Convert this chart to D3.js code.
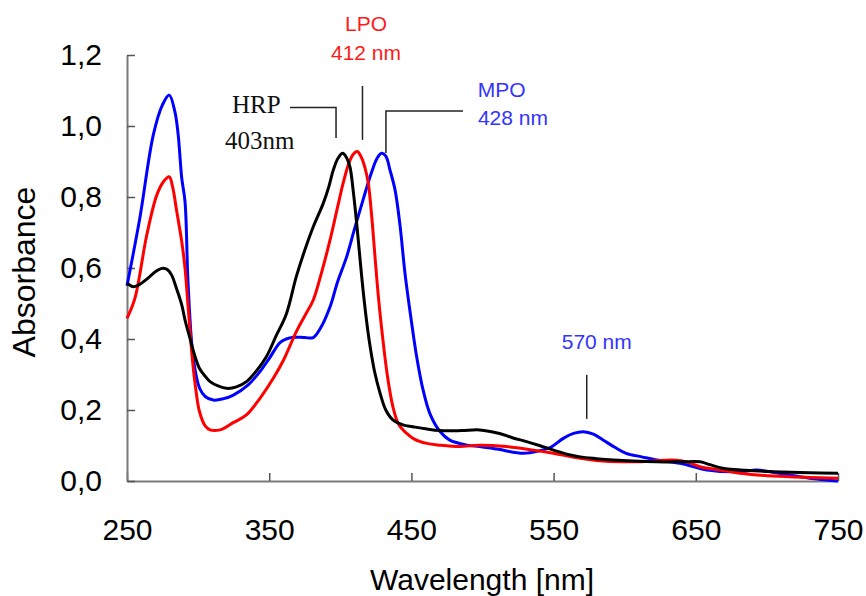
<!DOCTYPE html>
<html>
<head>
<meta charset="utf-8">
<script src="https://cdn.jsdelivr.net/npm/d3@7"></script>
<style>
  body { margin: 0; background: #fff; }
  svg { display: block; }
</style>
</head>
<body>
<svg id="chart" width="866" height="596"></svg>
<script>
// spectra: wavelength [nm] / absorbance
var mpoNm = [250, 259, 268.5, 275, 279.7, 283.7, 286, 288.5, 290.8, 293, 296.6, 301, 305, 310.7, 318, 324.8, 335, 343.5, 350, 357.6, 362, 367, 375, 381, 386, 392.8, 398, 404.5, 410, 416, 422, 426, 429, 432, 435, 438.5, 442, 445.5, 450, 453.7, 458, 463, 470, 477, 489, 498, 510, 528.7, 540, 548, 556.8, 564, 571, 578, 585, 593, 601, 612, 622.5, 639, 658, 681, 693, 705, 716, 730, 750];
var mpoAbs = [0.55, 0.74, 0.975, 1.06, 1.087, 1.04, 0.975, 0.853, 0.787, 0.552, 0.346, 0.262, 0.238, 0.228, 0.232, 0.242, 0.27, 0.308, 0.345, 0.39, 0.40, 0.405, 0.404, 0.404, 0.43, 0.491, 0.56, 0.632, 0.71, 0.792, 0.87, 0.91, 0.923, 0.915, 0.875, 0.82, 0.72, 0.585, 0.45, 0.35, 0.26, 0.19, 0.14, 0.115, 0.101, 0.097, 0.09, 0.078, 0.085, 0.095, 0.12, 0.134, 0.139, 0.132, 0.115, 0.095, 0.078, 0.068, 0.059, 0.05, 0.031, 0.026, 0.031, 0.024, 0.017, 0.008, 0.0];

var lpoNm = [250, 255.6, 263.9, 271, 276, 279.7, 282, 285, 288.5, 290.8, 293, 295.5, 298, 301, 305, 308.4, 315.4, 325, 334, 343, 353, 360, 369, 375, 381, 387, 392.8, 398, 402, 406, 409, 412, 415, 417.5, 419.7, 422, 424.4, 427, 430, 433, 437, 441, 446.7, 452, 460.8, 470, 484, 498, 517, 535.7, 549.8, 568.6, 580, 599, 615, 634, 645, 653, 665, 681, 704.5, 730, 750];
var lpoAbs = [0.458, 0.515, 0.693, 0.806, 0.845, 0.857, 0.83, 0.759, 0.674, 0.599, 0.49, 0.364, 0.27, 0.195, 0.155, 0.144, 0.144, 0.165, 0.186, 0.23, 0.29, 0.34, 0.42, 0.465, 0.51, 0.59, 0.679, 0.77, 0.839, 0.895, 0.92, 0.928, 0.91, 0.88, 0.839, 0.75, 0.632, 0.51, 0.397, 0.3, 0.209, 0.16, 0.134, 0.118, 0.106, 0.101, 0.097, 0.101, 0.097, 0.087, 0.078, 0.064, 0.058, 0.054, 0.055, 0.059, 0.052, 0.04, 0.032, 0.022, 0.014, 0.01, 0.008];

var hrpNm = [250, 254.5, 258, 261.5, 265, 268.5, 272, 275.5, 278.5, 281.4, 285, 288.5, 291, 294.3, 297.5, 301, 305, 308.4, 314, 320, 327, 334, 341, 348, 355, 362, 369, 375, 381, 388, 392, 395, 398.5, 401.7, 404.5, 406.8, 409, 411.5, 414, 416, 418.5, 421, 424, 428, 432, 437, 444, 451, 460, 470, 485, 498, 512, 521, 531, 540, 550, 560, 568.6, 580, 592, 606, 622.5, 640, 653, 660, 669, 685, 704.5, 730, 750];
var hrpAbs = [0.557, 0.547, 0.552, 0.561, 0.572, 0.585, 0.595, 0.599, 0.595, 0.58, 0.54, 0.496, 0.45, 0.402, 0.355, 0.317, 0.295, 0.28, 0.268, 0.261, 0.265, 0.28, 0.31, 0.35, 0.41, 0.47, 0.575, 0.65, 0.716, 0.782, 0.83, 0.875, 0.91, 0.923, 0.91, 0.885, 0.82, 0.726, 0.62, 0.538, 0.45, 0.378, 0.31, 0.247, 0.2, 0.172, 0.158, 0.153, 0.147, 0.142, 0.142, 0.144, 0.134, 0.122, 0.111, 0.1, 0.087, 0.075, 0.068, 0.063, 0.059, 0.056, 0.054, 0.054, 0.054, 0.046, 0.036, 0.03, 0.026, 0.023, 0.022];

var xTicks = [250, 350, 450, 550, 650, 750];
var yTicks = [0, 0.2, 0.4, 0.6, 0.8, 1.0, 1.2];

// peak labels and leader lines, in data units
var leaders = [
  [[364.6, 1.052], [397.0, 1.052], [397.0, 0.966]],
  [[415.6, 1.113], [415.6, 0.961]],
  [[486.3, 1.042], [432.1, 1.042], [432.1, 0.924]],
  [[573.3, 0.299], [573.3, 0.175]]
];
var labels = [
  { text: "LPO",    nm: 418.1, abs: 1.268, color: "#ff1a1a", anchor: "middle", serif: false },
  { text: "412 nm", nm: 418.1, abs: 1.186, color: "#ff1a1a", anchor: "middle", serif: false },
  { text: "MPO",    nm: 496.6, abs: 1.083, color: "#3333ff", anchor: "start",  serif: false },
  { text: "428 nm", nm: 496.8, abs: 1.003, color: "#3333ff", anchor: "start",  serif: false },
  { text: "570 nm", nm: 555.7, abs: 0.372, color: "#3333ff", anchor: "start",  serif: false },
  { text: "HRP",    nm: 323.8, abs: 1.037, color: "#111",    anchor: "start",  serif: true },
  { text: "403nm",  nm: 318.9, abs: 0.934, color: "#111",    anchor: "start",  serif: true }
];

var svg = d3.select("#chart");
svg.append("rect").attr("width", 866).attr("height", 596).attr("fill", "#fff");

var x = d3.scaleLinear().domain([250, 750]).range([127, 838]);
var y = d3.scaleLinear().domain([0, 1.2]).range([481, 55]);

var sans = "'Liberation Sans', Arial, sans-serif";
var serif = "'Liberation Serif', 'Times New Roman', serif";

// axes, ticks pointing inward
var gx = svg.append("g")
  .attr("class", "Xaxis")
  .attr("transform", "translate(0,481)")
  .call(d3.axisBottom(x).tickValues(xTicks).tickSizeInner(-8).tickSizeOuter(0).tickPadding(38).tickFormat(d3.format("d")));

var gy = svg.append("g")
  .attr("class", "Yaxis")
  .attr("transform", "translate(127,0)")
  .call(d3.axisLeft(y).tickValues(yTicks).tickSizeInner(-8).tickSizeOuter(0).tickPadding(25)
    .tickFormat(function (d) { return d3.format(".1f")(d).replace(".", ","); }));

[gx, gy].forEach(function (g) {
  g.attr("font-family", sans).attr("font-size", 30);
  g.select(".domain").attr("stroke", "#7a7a7a").attr("stroke-width", 2);
  g.selectAll(".tick line").attr("stroke", "#555").attr("stroke-width", 1.5);
  g.selectAll(".tick text").attr("fill", "#000");
});

// spectra
var line = d3.line()
  .x(function (d) { return x(d[0]); })
  .y(function (d) { return y(d[1]); })
  .curve(d3.curveCatmullRom.alpha(0.5));

var series = [
  { nm: mpoNm, abs: mpoAbs, color: "#0000ff" },
  { nm: lpoNm, abs: lpoAbs, color: "#ff0000" },
  { nm: hrpNm, abs: hrpAbs, color: "#000000" }
];

series.forEach(function (s) {
  var pts = s.nm.map(function (v, i) { return [v, s.abs[i]]; });
  svg.append("path")
    .datum(pts)
    .attr("d", line)
    .attr("fill", "none")
    .attr("stroke", s.color)
    .attr("stroke-width", 3)
    .attr("stroke-linejoin", "round");
});

// annotation leaders
svg.append("g").selectAll("path")
  .data(leaders)
  .enter().append("path")
  .attr("d", d3.line().x(function (d) { return x(d[0]); }).y(function (d) { return y(d[1]); }))
  .attr("fill", "none")
  .attr("stroke", "#222")
  .attr("stroke-width", 1.5);

svg.append("g").selectAll("text")
  .data(labels)
  .enter().append("text")
  .attr("x", function (d) { return x(d.nm); })
  .attr("y", function (d) { return y(d.abs); })
  .attr("text-anchor", function (d) { return d.anchor; })
  .attr("font-family", function (d) { return d.serif ? serif : sans; })
  .attr("font-size", function (d) { return d.serif ? 25 : 21; })
  .attr("fill", function (d) { return d.color; })
  .text(function (d) { return d.text; });

// axis titles
svg.append("text")
  .attr("x", 482).attr("y", 590)
  .attr("text-anchor", "middle")
  .attr("font-family", sans).attr("font-size", 30)
  .text("Wavelength [nm]");

svg.append("text")
  .attr("transform", "translate(35,272) rotate(-90)")
  .attr("text-anchor", "middle")
  .attr("font-family", sans).attr("font-size", 32)
  .text("Absorbance");
</script>
</body>
</html>
